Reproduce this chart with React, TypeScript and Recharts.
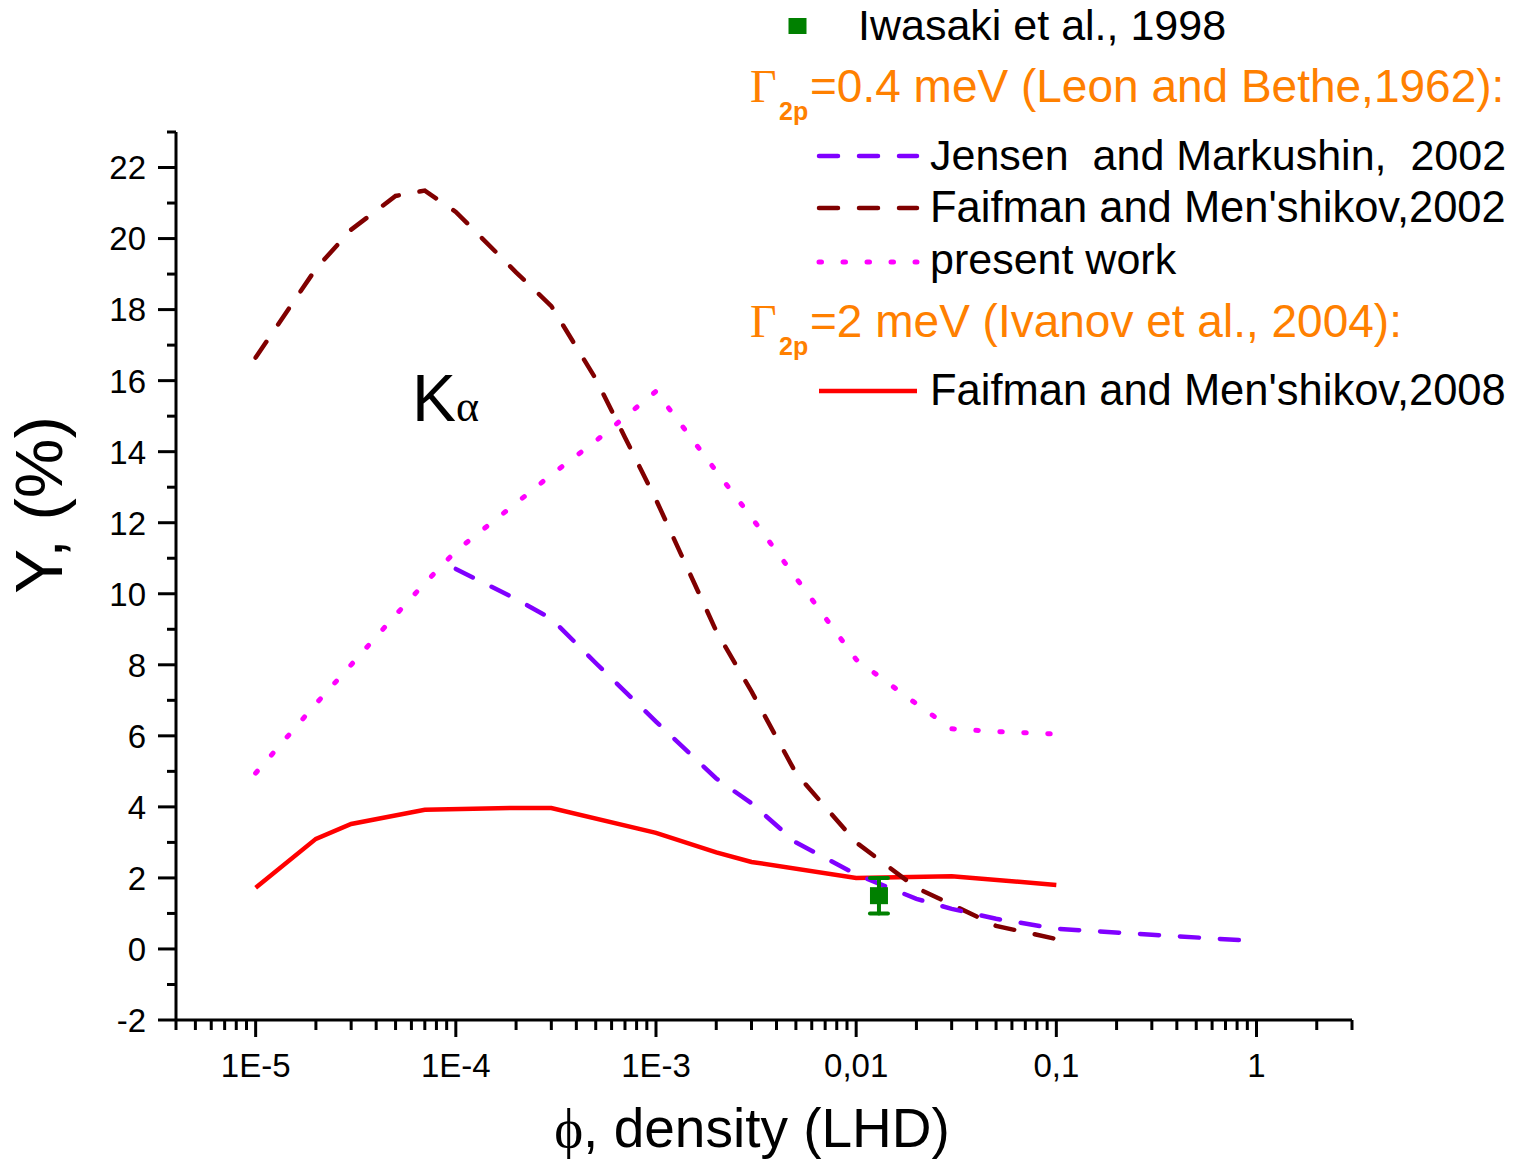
import React from "react";
import { ComposedChart, Line, Scatter, ErrorBar, XAxis, YAxis, Legend } from "recharts";

// axis ticks
const xMajorTicks = [1e-5, 1e-4, 1e-3, 0.01, 0.1, 1];
const xMajorLabels = ["1E-5", "1E-4", "1E-3", "0,01", "0,1", "1"];
const xDomain = [4e-6, 3];
const yDomain = [-2, 23];

// Jensen and Markushin, 2002
const jensenX = [1e-4, 2e-4, 3e-4, 5e-4, 1e-3, 2e-3, 3e-3, 5e-3, 0.01, 0.02, 0.03, 0.05, 0.1, 0.3, 1];
const jensenY = [10.7, 9.85, 9.3, 8.05, 6.4, 4.8, 4.1, 3.0, 2.1, 1.41, 1.13, 0.85, 0.57, 0.4, 0.22];

// Faifman and Men'shikov, 2002
const fm2002X = [1e-5, 2e-5, 3e-5, 5e-5, 7e-5, 1e-4, 2e-4, 3e-4, 5e-4, 7e-4, 1e-3, 2e-3, 3e-3, 5e-3, 0.01, 0.02, 0.03, 0.05, 0.1];
const fm2002Y = [16.65, 19.15, 20.25, 21.2, 21.35, 20.75, 19.05, 18.1, 16.05, 14.4, 12.65, 8.95, 7.25, 4.95, 3.0, 1.72, 1.25, 0.65, 0.28];

// present work
const presentX = [1e-5, 2e-5, 3e-5, 5e-5, 7e-5, 1e-4, 2e-4, 3e-4, 5e-4, 1e-3, 2e-3, 3e-3, 5e-3, 0.01, 0.02, 0.03, 0.05, 0.1];
const presentY = [4.95, 6.9, 8.0, 9.4, 10.3, 11.2, 12.55, 13.35, 14.3, 15.7, 13.45, 12.15, 10.45, 8.15, 6.9, 6.2, 6.12, 6.05];

// Faifman and Men'shikov, 2008
const fm2008X = [1e-5, 2e-5, 3e-5, 7e-5, 2e-4, 3e-4, 1e-3, 2e-3, 3e-3, 0.01, 0.03, 0.1];
const fm2008Y = [1.72, 3.1, 3.52, 3.92, 3.97, 3.97, 3.27, 2.72, 2.45, 2.0, 2.05, 1.8];

// Iwasaki et al., 1998
const iwasakiX = [0.013];
const iwasakiY = [1.5];
const iwasakiErr = [0.5];

const zip = (xs: number[], ys: number[]) => xs.map((x, i) => ({ x, y: ys[i] }));

const jensenData = zip(jensenX, jensenY);
const fm2002Data = zip(fm2002X, fm2002Y);
const presentData = zip(presentX, presentY);
const fm2008Data = zip(fm2008X, fm2008Y);
const iwasakiData = iwasakiX.map((x, i) => ({ x, y: iwasakiY[i], err: iwasakiErr[i] }));

// log minor ticks 2..9 in every decade, kept inside the domain
const xMinorTicks: number[] = [];
for (let d = -6; d <= 0; d++) {
  for (let m = 2; m <= 9; m++) {
    const v = m * Math.pow(10, d);
    if (v >= xDomain[0] * 0.999 && v <= xDomain[1] * 1.001) xMinorTicks.push(v);
  }
}
const xTicks = [...xMajorTicks, ...xMinorTicks].sort((a, b) => a - b);
const yTicks: number[] = [];
for (let v = yDomain[0]; v <= yDomain[1]; v++) yTicks.push(v);

const FONT = "'Liberation Sans', Arial, sans-serif";
const SERIF = "'Liberation Serif', 'DejaVu Serif', serif";

const COLORS = {
  jensen: "#8000FF",
  fm2002: "#800000",
  present: "#FF00FF",
  fm2008: "#FF0000",
  iwasaki: "#008000",
  orange: "#FF8000",
};

const DASH = "19 21";
const DOT = "2.5 21.5";
const LW = 4.5;

function XTick(props: any) {
  const { x, y, payload } = props;
  const idx = xMajorTicks.findIndex(
    (v) => Math.abs(Math.log10(v) - Math.log10(payload.value)) < 1e-6
  );
  const major = idx >= 0;
  return (
    <g>
      <line x1={x} x2={x} y1={y} y2={y + (major ? 17 : 10)} stroke="#000" strokeWidth={3} />
      {major && (
        <text x={x} y={y + 57} textAnchor="middle" fontSize={33} fontFamily={FONT} fill="#000">
          {xMajorLabels[idx]}
        </text>
      )}
    </g>
  );
}

function YTick(props: any) {
  const { x, y, payload } = props;
  const major = payload.value % 2 === 0;
  return (
    <g>
      <line x1={x - (major ? 18 : 9)} x2={x} y1={y} y2={y} stroke="#000" strokeWidth={3} />
      {major && (
        <text x={x - 30} y={y} dy="0.36em" textAnchor="end" fontSize={33} fontFamily={FONT} fill="#000">
          {payload.value}
        </text>
      )}
    </g>
  );
}

const IwasakiSquare = (props: any) => (
  <rect x={props.cx - 9} y={props.cy - 8.5} width={18} height={17} fill={COLORS.iwasaki} />
);

function Gamma2p({ y, text }: { y: number; text: string }) {
  return (
    <g fill={COLORS.orange}>
      <text x={10} y={y} fontSize={46} fontFamily={SERIF}>Γ</text>
      <text x={39} y={y + 18} fontSize={25} fontWeight="bold" fontFamily={FONT}>2p</text>
      <text x={70} y={y} fontSize={46} fontFamily={FONT}>{text}</text>
    </g>
  );
}

function LegendBox() {
  const lineX1 = 79;
  const lineX2 = 177;
  const textX = 190;
  return (
    <svg width={783} height={420} style={{ display: "block" }}>
      <rect x={48.5} y={18} width={18} height={16} fill={COLORS.iwasaki} />
      <text x={118} y={40} fontSize={43} fontFamily={FONT}>Iwasaki et al., 1998</text>

      <Gamma2p y={102} text="=0.4 meV (Leon and Bethe,1962):" />

      <line x1={lineX1} x2={lineX2} y1={156} y2={156} stroke={COLORS.jensen} strokeWidth={LW}
        strokeDasharray={DASH} strokeLinecap="round" />
      <text x={textX} y={170} fontSize={43} fontFamily={FONT} style={{ whiteSpace: "pre" }}>
        {"Jensen  and Markushin,  2002"}
      </text>

      <line x1={lineX1} x2={lineX2} y1={208} y2={208} stroke={COLORS.fm2002} strokeWidth={LW}
        strokeDasharray={DASH} strokeLinecap="round" />
      <text x={textX} y={222} fontSize={43.5} fontFamily={FONT}>Faifman and Men'shikov,2002</text>

      <line x1={lineX1} x2={lineX2} y1={262} y2={262} stroke={COLORS.present} strokeWidth={5}
        strokeDasharray={DOT} strokeLinecap="round" />
      <text x={textX} y={274} fontSize={43} fontFamily={FONT}>present work</text>

      <Gamma2p y={337} text="=2 meV (Ivanov et al., 2004):" />

      <line x1={lineX1} x2={lineX2} y1={391} y2={391} stroke={COLORS.fm2008} strokeWidth={LW} />
      <text x={textX} y={405} fontSize={43.5} fontFamily={FONT}>Faifman and Men'shikov,2008</text>
    </svg>
  );
}

export default function App() {
  return (
    <div style={{ position: "absolute", left: 0, top: 0, width: 1523, height: 1160, background: "#fff" }}>
      <ComposedChart
        width={1523}
        height={1160}
        margin={{ top: 132, right: 171, bottom: 0, left: 0 }}
      >
        <XAxis
          type="number"
          dataKey="x"
          scale="log"
          domain={xDomain}
          allowDataOverflow
          ticks={xTicks}
          interval={0}
          tick={<XTick />}
          tickLine={false}
          tickSize={0}
          tickMargin={0}
          axisLine={{ stroke: "#000", strokeWidth: 3 }}
          height={140}
          label={{
            content: () => (
              <text x={752} y={1147} textAnchor="middle" fontSize={55} fontFamily={FONT} fill="#000">
                <tspan fontFamily={SERIF}>ϕ</tspan>, density (LHD)
              </text>
            ),
          }}
        />
        <YAxis
          type="number"
          domain={yDomain}
          allowDataOverflow
          ticks={yTicks}
          interval={0}
          tick={<YTick />}
          tickLine={false}
          tickSize={0}
          tickMargin={0}
          axisLine={{ stroke: "#000", strokeWidth: 3 }}
          width={176}
          label={{
            content: () => (
              <text x={62} y={505} transform="rotate(-90 62 505)" textAnchor="middle"
                fontSize={67} fontFamily={FONT} fill="#000">
                Y, (%)
              </text>
            ),
          }}
        />
        <Legend
          layout="vertical"
          align="center"
          verticalAlign="middle"
          content={() => <LegendBox />}
          wrapperStyle={{ left: 740, top: 0, width: 783, height: 420 }}
        />

        <Line data={fm2008Data} dataKey="y" type="linear" stroke={COLORS.fm2008} strokeWidth={LW}
          dot={false} activeDot={false} isAnimationActive={false} />
        <Line data={presentData} dataKey="y" type="linear" stroke={COLORS.present} strokeWidth={5}
          strokeDasharray={DOT} strokeLinecap="round" dot={false} activeDot={false} isAnimationActive={false} />
        <Line data={fm2002Data} dataKey="y" type="linear" stroke={COLORS.fm2002} strokeWidth={LW}
          strokeDasharray={DASH} strokeLinecap="round" dot={false} activeDot={false} isAnimationActive={false} />
        <Line data={jensenData} dataKey="y" type="linear" stroke={COLORS.jensen} strokeWidth={LW}
          strokeDasharray={DASH} strokeLinecap="round" dot={false} activeDot={false} isAnimationActive={false} />
        <Scatter data={iwasakiData} dataKey="y" fill={COLORS.iwasaki} shape={IwasakiSquare}
          isAnimationActive={false}>
          <ErrorBar dataKey="err" direction="y" width={9} stroke={COLORS.iwasaki} strokeWidth={4}
            strokeLinecap="round" isAnimationActive={false} />
        </Scatter>
      </ComposedChart>

      <div
        style={{
          position: "absolute",
          left: 412,
          top: 361,
          fontFamily: FONT,
          fontSize: 66,
          lineHeight: "74px",
          color: "#000",
          whiteSpace: "nowrap",
        }}
      >
        K<span style={{ fontFamily: SERIF, fontSize: 44 }}>α</span>
      </div>
    </div>
  );
}
